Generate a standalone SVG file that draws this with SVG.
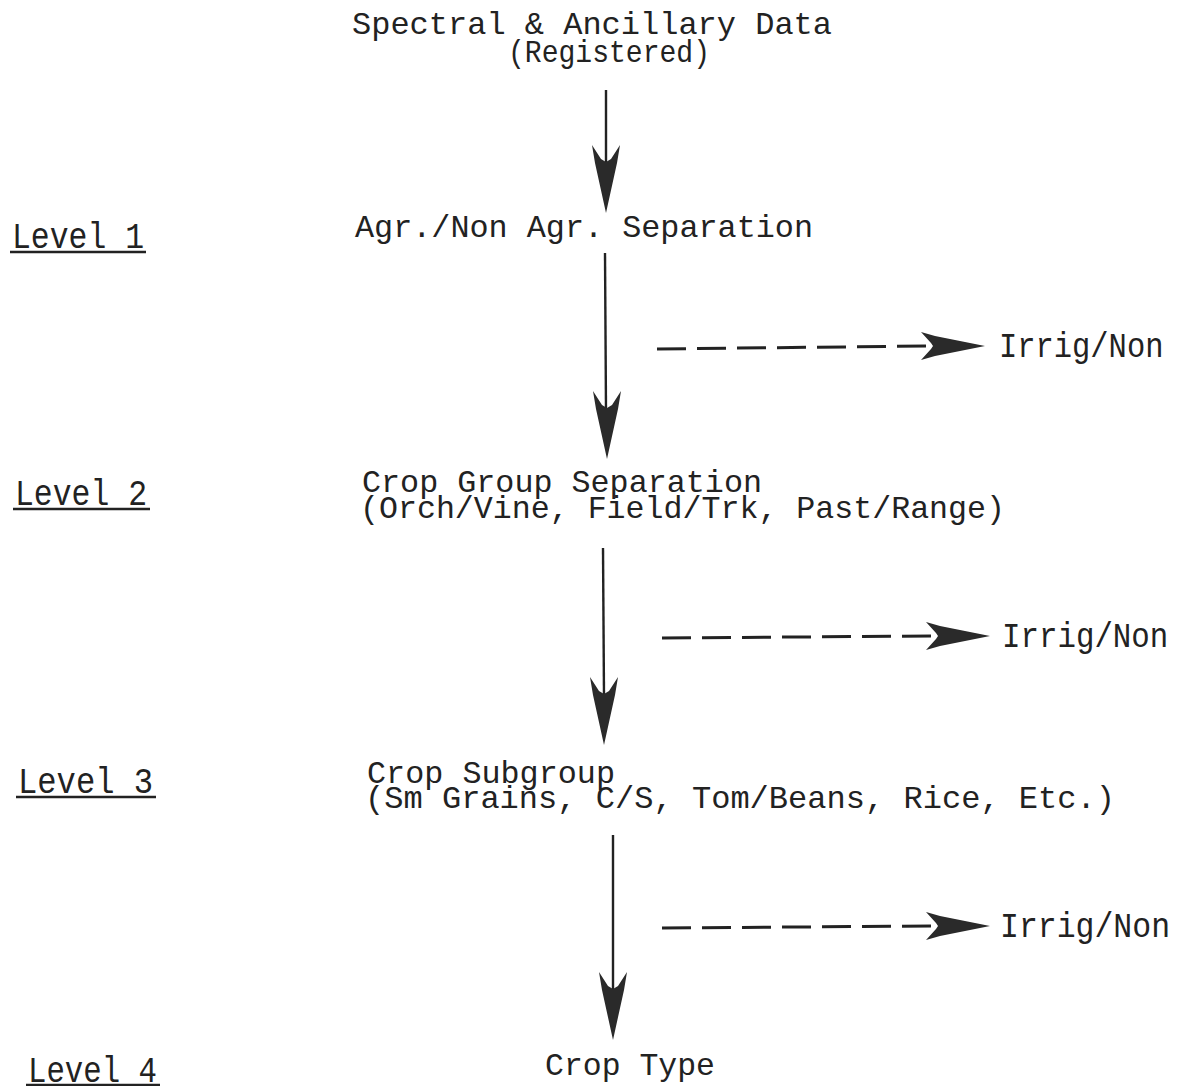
<svg xmlns="http://www.w3.org/2000/svg" width="1180" height="1086" viewBox="0 0 1180 1086">
<style>
  .t { font-family: "Liberation Mono", "DejaVu Sans Mono", monospace; font-size: 32px; fill: #222; }
  .lv { font-family: "Liberation Mono", "DejaVu Sans Mono", monospace; font-size: 37px; fill: #222; }
  .ir { font-family: "Liberation Mono", "DejaVu Sans Mono", monospace; font-size: 35px; fill: #222; }
  .ul { stroke: #222; stroke-width: 2.5; }
  .ln { stroke: #222; stroke-width: 2.4; fill: none; }
  .dl { stroke: #222; stroke-width: 3; fill: none; stroke-dasharray: 29 11; }
  .hd { fill: #2a2a2a; }
</style>
<defs>
  <path id="headDown" class="hd" d="M0,0 L-11,-50 L-14,-68 L-5,-54 L0,-51 L5,-54 L14,-68 L11,-50 Z"/>
  <path id="headRight" class="hd" d="M0,0 L-50,-10 L-64,-14 L-54,-3 L-52,0 L-54,3 L-64,14 L-50,10 Z"/>
</defs>
<rect width="1180" height="1086" fill="#fff"/>

<g id="connectors">
  <line class="ln" x1="606" y1="90" x2="606" y2="165"/>
  <use href="#headDown" x="606" y="213"/>
  <line class="ln" x1="605" y1="253" x2="606" y2="410"/>
  <use href="#headDown" x="607" y="459"/>
  <line class="ln" x1="603" y1="548" x2="604" y2="697"/>
  <use href="#headDown" x="604" y="745"/>
  <line class="ln" x1="613" y1="835" x2="613" y2="992"/>
  <use href="#headDown" x="613" y="1040"/>

  <path class="dl" d="M657,349 L928,346"/>
  <use href="#headRight" x="985" y="346"/>
  <path class="dl" d="M662,638 L932,636"/>
  <use href="#headRight" x="990" y="636"/>
  <path class="dl" d="M662,928 L932,926"/>
  <use href="#headRight" x="990" y="926"/>
</g>

<g id="source">
  <text class="t" x="352" y="34" textLength="480" lengthAdjust="spacingAndGlyphs">Spectral &amp; Ancillary Data</text>
  <text class="t" x="508" y="62" textLength="202" lengthAdjust="spacingAndGlyphs">(Registered)</text>
</g>
<g id="node-level1">
  <text class="t" x="355" y="237" textLength="458" lengthAdjust="spacingAndGlyphs">Agr./Non Agr. Separation</text>
</g>
<g id="node-level2">
  <text class="t" x="362" y="492" textLength="400" lengthAdjust="spacingAndGlyphs">Crop Group Separation</text>
  <text class="t" x="360" y="518" textLength="645" lengthAdjust="spacingAndGlyphs">(Orch/Vine, Field/Trk, Past/Range)</text>
</g>
<g id="node-level3">
  <text class="t" x="367" y="783" textLength="248" lengthAdjust="spacingAndGlyphs">Crop Subgroup</text>
  <text class="t" x="365" y="808" textLength="750" lengthAdjust="spacingAndGlyphs">(Sm Grains, C/S, Tom/Beans, Rice, Etc.)</text>
</g>
<g id="node-level4">
  <text class="t" x="545" y="1075" textLength="170" lengthAdjust="spacingAndGlyphs">Crop Type</text>
</g>
<g id="irrig1"><text class="ir" transform="translate(999,357) scale(0.87,1)">Irrig/Non</text></g>
<g id="irrig2"><text class="ir" transform="translate(1002,647) scale(0.88,1)">Irrig/Non</text></g>
<g id="irrig3"><text class="ir" transform="translate(1000,937) scale(0.9,1)">Irrig/Non</text></g>

<g id="label-level1">
  <text class="lv" transform="translate(12,248) scale(0.85,1)">Level 1</text>
  <line class="ul" x1="10" y1="252" x2="146" y2="252"/>
</g>
<g id="label-level2">
  <text class="lv" transform="translate(15,505) scale(0.85,1)">Level 2</text>
  <line class="ul" x1="13" y1="509" x2="150" y2="509"/>
</g>
<g id="label-level3">
  <text class="lv" transform="translate(18,793) scale(0.87,1)">Level 3</text>
  <line class="ul" x1="16" y1="797" x2="156" y2="797"/>
</g>
<g id="label-level4">
  <text class="lv" transform="translate(28,1082) scale(0.83,1)">Level 4</text>
  <line class="ul" x1="26" y1="1085" x2="160" y2="1085"/>
</g>
</svg>
